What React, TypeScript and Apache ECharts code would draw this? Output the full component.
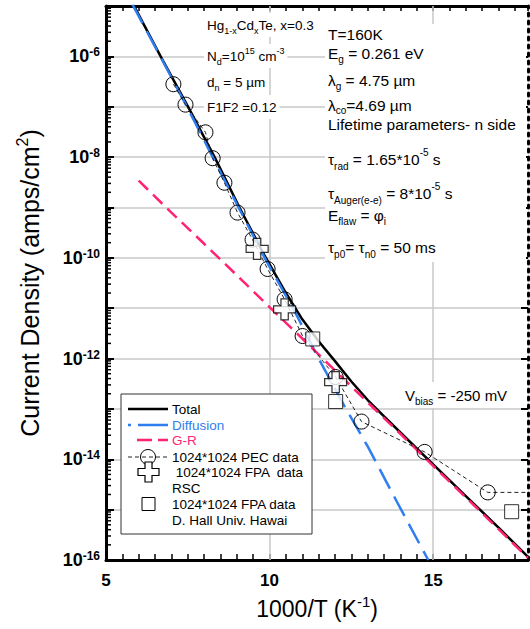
import React, { useEffect, useRef } from "react";
import * as echarts from "echarts";

// ---- data (x = 1000/T in K^-1, y = current density A/cm^2)
const totalX = [5.84, 6.67, 7.49, 8.32, 9.08, 9.85, 10.5, 11.0, 11.5, 12.0, 12.5, 13.0, 13.5, 14.0, 15.0, 16.0, 17.0, 17.9];
const totalY = [1.05e-5, 1.0e-6, 1.05e-7, 1.0e-8, 1.0e-9, 1.1e-10, 2.0e-11, 6.0e-12, 2.2e-12, 8.9e-13, 3.5e-13, 1.5e-13, 7.1e-14, 3.4e-14, 7.9e-15, 1.86e-15, 4.4e-16, 1.15e-16];

const diffX = [5.8, 6.7, 7.5, 8.3, 9.1, 9.9, 10.8, 11.5, 12.3, 13.0, 13.9, 14.85];
const diffY = [1.1e-5, 8.9e-7, 9.3e-8, 8.9e-9, 8.7e-10, 8.7e-11, 7.9e-12, 1.0e-12, 1.1e-13, 1.8e-14, 1.4e-15, 1.0e-16];

const grX = [6.0, 7.0, 8.0, 9.0, 10.0, 11.0, 12.0, 13.0, 14.0, 15.0, 16.0, 17.0, 17.9];
const grY = [3.4e-9, 7.9e-10, 1.9e-10, 4.5e-11, 1.05e-11, 2.5e-12, 5.8e-13, 1.35e-13, 3.2e-14, 7.4e-15, 1.75e-15, 4.1e-16, 1.1e-16];

const pecX = [7.06, 7.43, 8.04, 8.26, 8.62, 9.02, 9.48, 9.94, 10.46, 11.01, 12.02, 12.81, 14.74, 16.67, 17.9];
const pecY = [2.8e-7, 1.1e-7, 3.1e-8, 9.5e-9, 3.1e-9, 7.9e-10, 2.3e-10, 6.0e-11, 1.5e-11, 2.8e-12, 4.3e-13, 5.6e-14, 1.4e-14, 2.2e-15, 2.2e-15];

const rscX = [9.62, 10.46, 12.02];
const rscY = [1.5e-10, 9.5e-12, 3.4e-13];

const hawaiX = [11.32, 12.02, 17.4];
const hawaiY = [2.45e-12, 1.4e-13, 9.1e-16];

const xMin = 5;
const xMax = 17.9;
const xLabelValues = [5, 10, 15];
const xGridValues = [10, 15];
const yMin = 1e-16;
const yMax = 1e-5;
const yLabelExponents = [-16, -14, -12, -10, -8, -6];
const logMinorMantissas = [2, 3, 4, 5, 6, 7, 8, 9];

const FONT = "'Liberation Sans', Arial, Helvetica, sans-serif";
const BLUE = "#2f7ef0";
const PINK = "#ff2275";
const PLUS_PATH = "path://M1,0 L2,0 L2,1 L3,1 L3,2 L2,2 L2,3 L1,3 L1,2 L0,2 L0,1 L1,1 Z";

const zip = (xs: number[], ys: number[]) => xs.map((x, i) => [x, ys[i]]);

function annot(x: number, y: number, text: string, size: number, L: number, sub: number, subH: number, supH: number, bg: boolean) {
  return {
    type: "text",
    z: 100,
    style: {
      x,
      y,
      text,
      fill: "#000",
      fontSize: size,
      fontFamily: FONT,
      lineHeight: L,
      verticalAlign: "middle",
      align: "left",
      backgroundColor: bg ? "#fff" : undefined,
      padding: bg ? [2, 3, 2, 3] : undefined,
      rich: {
        b: { fontSize: sub, lineHeight: subH, verticalAlign: "bottom", fontFamily: FONT, fill: "#000" },
        p: { fontSize: sub, lineHeight: supH, verticalAlign: "top", fontFamily: FONT, fill: "#000" },
      },
    },
  };
}

export default function App() {
  const ref = useRef<HTMLDivElement>(null);

  useEffect(() => {
    document.body.style.margin = "0";
    if (!ref.current) return;
    const chart = echarts.init(ref.current, null, { renderer: "svg" });

    const minorTickData: number[][] = [];
    for (let d = -16; d <= -6; d++) {
      for (const m of logMinorMantissas) minorTickData.push([xMin, m * Math.pow(10, d)]);
    }

    const isMult5 = (v: number) => xLabelValues.some((t) => Math.abs(t - v) < 1e-6);

    // [text, centre y, line height, sub line height]
    const rightText = [
      ["T=160K", 34, 16, 6],
      ["E{b|g} = 0.261 eV", 53, 22, 4],
      ["λ{b|g} = 4.75 µm", 80, 22, 4],
      ["λ{b|co}=4.69 µm", 105, 20, 3],
      ["Lifetime parameters- n side", 124, 15, 6],
      ["τ{b|rad} = 1.65*10{p|-5} s", 159, 24, 6],
      ["τ{b|Auger(e-e)} = 8*10{p|-5} s", 193, 24, 6],
      ["E{b|flaw} = φ{b|i}", 215, 22, 4],
      ["τ{b|p0}= τ{b|n0} = 50 ms", 247, 24, 6],
    ] as [string, number, number, number][];

    const leftText = [
      ["Hg{b|1-x}Cd{b|x}Te, x=0.3", 25],
      ["N{b|d}=10{p|15} cm{p|-3}", 56],
      ["d{b|n} = 5 µm", 82],
      ["F1F2 =0.12", 107],
    ] as [string, number][];

    const legendText = (x: number, y: number, t: string, color = "#000") => ({
      type: "text",
      z: 101,
      style: { x, y, text: t, fill: color, fontSize: 13.5, fontFamily: FONT, verticalAlign: "middle", align: "left" },
    });

    const graphic: any[] = [
      { type: "rect", z: 99, shape: { x: 325, y: 24, width: 201, height: 238 }, style: { fill: "#fff" } },
      ...rightText.map(([t, y, L, sh]) => annot(328, y, t, 15.5, L, 10, sh, L - 10, false)),
      ...leftText.map(([t, y]) => annot(204, y, t, 13.5, 20, 9, 4, 12, true)),
      annot(402, 395, "V{b|bias} = -250 mV", 15, 22, 10, 6, 12, true),
      // legend
      { type: "rect", z: 100, shape: { x: 121, y: 394, width: 191, height: 140 }, style: { fill: "#fff", stroke: "#333", lineWidth: 1 } },
      { type: "line", z: 101, shape: { x1: 128, y1: 409, x2: 168, y2: 409 }, style: { stroke: "#000", lineWidth: 2.5 } },
      legendText(172, 409, "Total"),
      { type: "line", z: 101, shape: { x1: 128, y1: 425, x2: 168, y2: 425 }, style: { stroke: BLUE, lineWidth: 2.5, lineDash: [3, 7, 30, 5] } },
      legendText(172, 425, "Diffusion", BLUE),
      { type: "line", z: 101, shape: { x1: 137, y1: 440, x2: 168, y2: 440 }, style: { stroke: PINK, lineWidth: 2.5, lineDash: [15, 6] } },
      legendText(172, 440, "G-R", PINK),
      { type: "line", z: 101, shape: { x1: 128, y1: 457, x2: 168, y2: 457 }, style: { stroke: "#222", lineWidth: 1, lineDash: [4, 3] } },
      { type: "circle", z: 102, shape: { cx: 148, cy: 457, r: 7.5 }, style: { fill: "rgba(0,0,0,0)", stroke: "#000", lineWidth: 1 } },
      legendText(172, 457, "1024*1024 PEC data"),
      {
        type: "polygon",
        z: 102,
        shape: { points: [[145, 462], [152, 462], [152, 468.5], [159, 468.5], [159, 475.5], [152, 475.5], [152, 482], [145, 482], [145, 475.5], [138, 475.5], [138, 468.5], [145, 468.5]] },
        style: { fill: "#fff", stroke: "#000", lineWidth: 1.2 },
      },
      legendText(172, 472, " 1024*1024 FPA  data"),
      legendText(172, 488, "RSC"),
      { type: "rect", z: 102, shape: { x: 142, y: 497.5, width: 13, height: 13 }, style: { fill: "#fff", stroke: "#000", lineWidth: 1 } },
      legendText(172, 504, "1024*1024 FPA data"),
      legendText(172, 520, "D. Hall Univ. Hawai"),
    ];

    const option: any = {
      animation: false,
      backgroundColor: "#fff",
      textStyle: { fontFamily: FONT },
      grid: { left: 106, right: 2, top: 6, bottom: 66 },
      xAxis: [
        {
          type: "value",
          position: "bottom",
          min: xMin,
          max: xMax,
          interval: 0.5,
          axisLine: { show: true, onZero: false, lineStyle: { color: "#000", width: 3 } },
          axisTick: { show: true, inside: true, length: 6, lineStyle: { color: "#000", width: 1.5 } },
          axisLabel: {
            show: true,
            formatter: (v: number) => (isMult5(v) ? String(Math.round(v)) : ""),
            color: "#000",
            fontSize: 17,
            fontWeight: "bold",
            fontFamily: FONT,
            margin: 12,
            showMaxLabel: false,
            hideOverlap: false,
          },
          splitLine: { show: false },
          name: "1000/T (K{s|-1})",
          nameLocation: "middle",
          nameGap: 34,
          nameTextStyle: {
            color: "#000",
            fontSize: 23,
            fontFamily: FONT,
            lineHeight: 30,
            rich: { s: { fontSize: 15, lineHeight: 14, verticalAlign: "top", fontFamily: FONT, color: "#000" } },
          },
        },
        {
          type: "value",
          position: "top",
          min: xMin,
          max: xMax,
          interval: 0.5,
          axisLine: { show: true, onZero: false, lineStyle: { color: "#000", width: 3 } },
          axisTick: { show: true, inside: true, length: 5, lineStyle: { color: "#000", width: 1.5 } },
          axisLabel: { show: false },
          splitLine: { show: false },
        },
      ],
      yAxis: [
        {
          type: "log",
          logBase: 10,
          min: yMin,
          max: yMax,
          interval: 1,
          position: "left",
          axisLine: { show: true, onZero: false, lineStyle: { color: "#000", width: 3 } },
          axisTick: { show: true, inside: true, length: 8, lineStyle: { color: "#000", width: 2 } },
          axisLabel: {
            show: true,
            margin: 6,
            formatter: (v: number) => {
              const e = Math.round(Math.log10(v));
              return yLabelExponents.indexOf(e) >= 0 ? `{b|10}{s|${e}}` : "";
            },
            rich: {
              b: { fontSize: 18, fontWeight: "bold", lineHeight: 20, color: "#000", fontFamily: FONT },
              s: { fontSize: 12, fontWeight: "bold", lineHeight: 10, verticalAlign: "top", color: "#000", fontFamily: FONT },
            },
          },
          splitLine: { show: true, lineStyle: { color: "#c8c8c8", width: 1.5 } },
          name: "Current Density (amps/cm{s|2})",
          nameLocation: "middle",
          nameGap: 60,
          nameRotate: 90,
          nameTextStyle: {
            color: "#000",
            fontSize: 25,
            fontFamily: FONT,
            lineHeight: 32,
            rich: { s: { fontSize: 16, lineHeight: 14, verticalAlign: "top", fontFamily: FONT, color: "#000" } },
          },
        },
        {
          type: "log",
          logBase: 10,
          min: yMin,
          max: yMax,
          interval: 1,
          position: "right",
          axisLine: { show: true, onZero: false, lineStyle: { color: "#000", width: 3, type: [3, 5] } },
          axisTick: { show: true, inside: true, length: 7, lineStyle: { color: "#000", width: 2 } },
          axisLabel: { show: false },
          splitLine: { show: false },
        },
      ],
      series: [
        {
          name: "axis minor ticks",
          type: "custom",
          silent: true,
          z: 10,
          clip: false,
          data: minorTickData,
          renderItem: (params: any, api: any) => {
            const v = api.value(1);
            const l = api.coord([xMin, v]);
            return {
              type: "line",
              shape: { x1: l[0], y1: l[1], x2: l[0] + 5, y2: l[1] },
              style: { stroke: "#000", lineWidth: 1.5 },
            };
          },
          markLine: {
            silent: true,
            symbol: ["none", "none"],
            label: { show: false },
            z: 1,
            lineStyle: { color: "#c8c8c8", width: 1.5, type: "solid" },
            data: xGridValues.map((v) => ({ xAxis: v })),
          },
        },
        {
          name: "Total",
          type: "line",
          z: 3,
          symbol: "none",
          lineStyle: { color: "#000", width: 2.5 },
          data: zip(totalX, totalY),
        },
        {
          name: "Diffusion",
          type: "line",
          z: 4,
          symbol: "none",
          lineStyle: { color: BLUE, width: 2.5, type: [22, 9] },
          data: zip(diffX, diffY),
        },
        {
          name: "G-R",
          type: "line",
          z: 4,
          symbol: "none",
          lineStyle: { color: PINK, width: 2.5, type: [13, 7] },
          data: zip(grX, grY),
        },
        {
          name: "1024*1024 PEC data",
          type: "line",
          z: 5,
          symbol: "circle",
          symbolSize: 15,
          itemStyle: { color: "rgba(0,0,0,0)", borderColor: "#000", borderWidth: 1 },
          lineStyle: { color: "#222", width: 1, type: [4, 3] },
          data: zip(pecX, pecY).map((p, i) => (i === pecX.length - 1 ? { value: p, symbol: "none" } : p)),
        },
        {
          name: "1024*1024 FPA data RSC",
          type: "scatter",
          z: 6,
          symbol: PLUS_PATH,
          symbolSize: [22, 21],
          itemStyle: { color: "#fff", borderColor: "#000", borderWidth: 1.2 },
          data: zip(rscX, rscY),
        },
        {
          name: "1024*1024 FPA data D. Hall Univ. Hawai",
          type: "scatter",
          z: 6,
          symbol: "rect",
          symbolSize: 14,
          itemStyle: { color: "#fff", borderColor: "#000", borderWidth: 1 },
          data: zip(hawaiX, hawaiY),
        },
      ],
      graphic,
    };

    chart.setOption(option);
    return () => chart.dispose();
  }, []);

  return <div ref={ref} style={{ width: 530, height: 629 }} />;
}
